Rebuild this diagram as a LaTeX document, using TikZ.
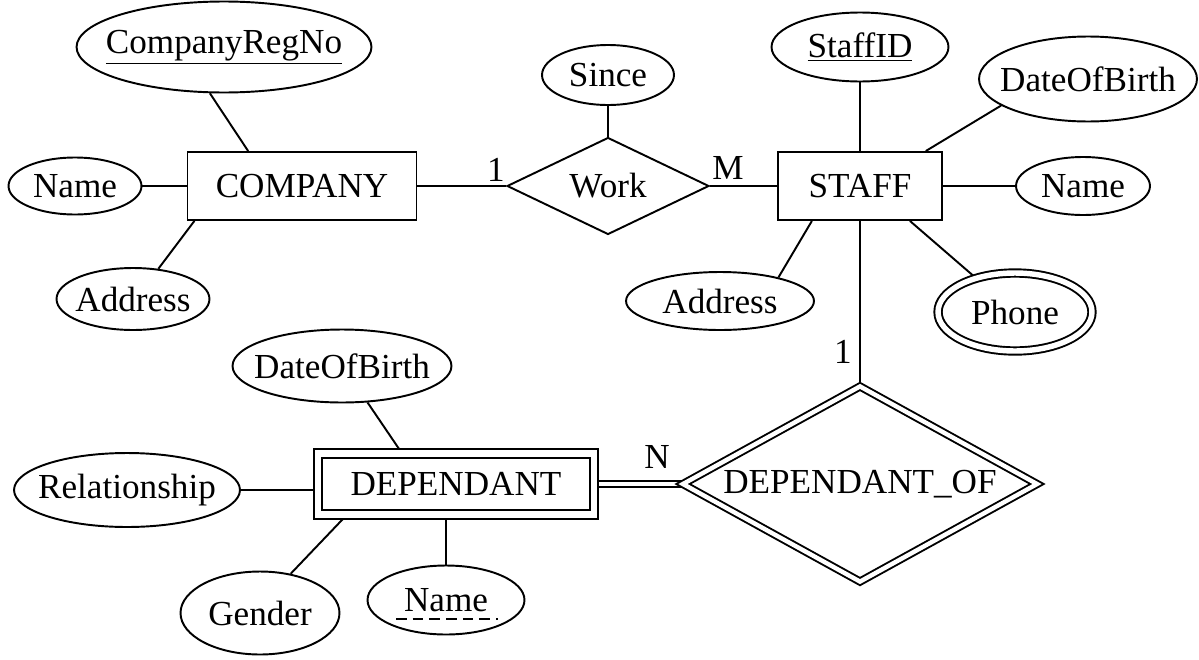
\documentclass[tikz,border=0pt]{standalone}
\usepackage{fontspec}
\setmainfont{Liberation Serif}
\usetikzlibrary{shapes.geometric, shapes.misc, positioning, backgrounds}

\tikzset{
  entity/.style={draw, rectangle, line width=1.1pt, inner sep=0pt},
  weakentity/.style={entity, double, double distance=3.8pt},
  attr/.style={draw, ellipse, line width=1.1pt, inner ysep=0pt, inner xsep=-25pt},
  multiattr/.style={attr, double, double distance=3.1pt},
  rel/.style={draw, diamond, line width=1.1pt, inner sep=0pt, aspect=2},
  identrel/.style={rel, double, double distance=2.5pt},
  link/.style={line width=1.1pt},
  card/.style={inner sep=0pt}
}

\begin{document}
\begin{tikzpicture}[x=0.02cm, y=-0.02cm, font=\fontsize{20}{24}\selectfont]
    \useasboundingbox (0,0) rectangle (1199,659);
    % company side
    \node[attr, minimum width=5.9cm, minimum height=1.82cm] (regno) at (224,47) {\underline{CompanyRegNo}};
    \node[attr, minimum width=2.66cm, minimum height=1.14cm] (cname) at (75,186) {Name};
    \node[entity, minimum width=4.58cm, minimum height=1.36cm] (company) at (302,186) {COMPANY};
    \node[attr, minimum width=3.06cm, minimum height=1.24cm] (caddress) at (133,299) {Address};
    %
    \node[attr, minimum width=2.64cm, minimum height=1.2cm] (since) at (608,75) {Since};
    \node[rel, minimum width=4.04cm, minimum height=1.94cm] (work) at (608,186) {Work};
    % staff side
    \node[entity, minimum width=3.28cm, minimum height=1.36cm] (staff) at (860,186) {STAFF};
    \node[attr, minimum width=3.54cm, minimum height=1.38cm] (staffid) at (860,47) {\underline{StaffID}};
    \node[attr, minimum width=4.36cm, minimum height=1.7cm] (sdob) at (1088,79) {DateOfBirth};
    \node[attr, minimum width=2.68cm, minimum height=1.16cm] (sname) at (1083,186) {Name};
    \node[attr, minimum width=3.76cm, minimum height=1.16cm] (saddress) at (720,301) {Address};
    \node[multiattr, minimum width=3.08cm, minimum height=1.56cm] (phone) at (1015,312) {Phone};
    % dependant side
    \node[identrel, aspect=1.8, minimum width=7.1cm, minimum height=3.92cm] (depof) at (860,484) {DEPENDANT\_OF};
    \node[weakentity, minimum width=5.52cm, minimum height=1.22cm] (dependant) at (456,484) {DEPENDANT};
    \node[attr, minimum width=4.38cm, minimum height=1.46cm] (ddob) at (342,366) {DateOfBirth};
    \node[attr, minimum width=4.52cm, minimum height=1.48cm] (relation) at (127,490) {Relationship};
    \node[attr, minimum width=3.18cm, minimum height=1.66cm] (gender) at (260,613) {Gender};
    \node[attr, minimum width=3.14cm, minimum height=1.38cm] (dname) at (446,600) {Name};
    \draw[line width=1.1pt, dash pattern=on 6pt off 3.5pt] ([shift={(-50,8)}]dname.base) -- ([shift={(52,8)}]dname.base);
    %
    \node[card] (cw1) at (496,170) {1};
    \node[card] (cwm) at (728,168) {M};
    \node[card] (sd1) at (843,352) {1};
    \node[card] (sdn) at (657,457) {N};

    \begin{scope}[on background layer]
    \draw[link] (regno.-107) -- (company.147);
    \draw[link] (cname) -- (company);
    \draw[link] (caddress.50) -- (company.-162);
    \draw[link] (company) -- (work);
    \draw[link] (since) -- (work);
    \draw[link] (work) -- (staff);
    \draw[link] (staffid) -- (staff);
    \draw[link] (sdob.-163) -- (staff.28);
    \draw[link] (staff) -- (sname);
    \draw[link] (saddress.22) -- (staff.-144);
    \draw[link] (staff.-35) -- (phone.139);
    \draw[link] (staff) -- (depof);
    \draw[link, double, double distance=2.5pt] (dependant) -- (depof);
    \draw[link] (ddob.-55) -- (dependant.150);
    \draw[link] (relation.east) -- (relation.east -| dependant.west);
    \draw[link] (gender.52) -- (dependant.-164);
    \draw[link] (dname.north) -- (dname.north |- dependant.south);
    \end{scope}
\end{tikzpicture}
\end{document}
